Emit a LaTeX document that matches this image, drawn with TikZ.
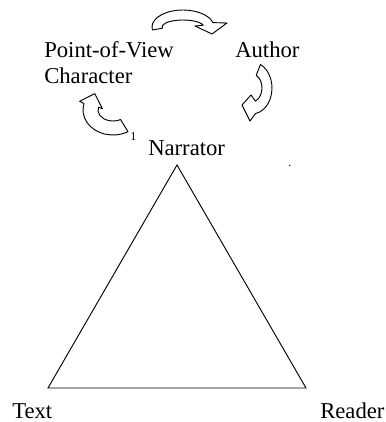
\documentclass[tikz,border=0pt]{standalone}
\usepackage{fontspec}
\setmainfont{Liberation Serif}
\usetikzlibrary{calc}

\tikzset{
  voice/.style={inner sep=0pt, anchor=base west, font=\fontsize{17}{19.5}\selectfont},
  tiny text/.style={inner sep=0pt, anchor=base west, font=\fontsize{9}{10}\selectfont},
  block arrow/.style={draw, fill=white, line width=0.7pt, line join=round},
}

\begin{document}
\begin{tikzpicture}[x=0.75pt, y=-0.75pt]
  \useasboundingbox (0,0) rectangle (386,422);

  % the three voices
  \node[voice, align=left] (pov) at (44,83) {Point-of-View\\Character};
  \node[voice] (author) at (235,57) {Author};
  \node[voice] (narrator) at (148,155) {Narrator};
  \node[tiny text] (note) at (130,140) {1};
  \node[tiny text] (dot) at (288,166) {.};

  % triangle
  \coordinate (apexN) at (177,165);
  \coordinate (cornerT) at (48,388);
  \coordinate (cornerR) at (306,388);
  \draw[line width=0.7pt] (apexN) -- (cornerT) -- (cornerR) -- cycle;
  \node[voice] (text) at (12,418) {Text};
  \node[voice] (reader) at (320,418) {Reader};

  % curved arrows, going round clockwise
  \coordinate (topc) at (183,27);
  \coordinate (rightc) at (252,88);
  \coordinate (leftc) at (113,110);
  \draw[block arrow] ($(topc)+(170:31 and 17)$)
    arc[start angle=170, end angle=345, x radius=31, y radius=17]
    -- (227,23) -- (212,34) -- (195,26)
    -- ($(topc)+(345:21 and 7)$)
    arc[start angle=345, end angle=170, x radius=21, y radius=7] -- cycle;
  \draw[block arrow] ($(rightc)+(-65:20 and 26)$)
    arc[start angle=-65, end angle=80, x radius=20, y radius=26]
    -- (250,121) -- (242,105) -- (251,95)
    -- ($(rightc)+(70:10 and 14)$)
    arc[start angle=70, end angle=-65, x radius=10, y radius=14] -- cycle;
  \draw[block arrow] ($(leftc)+(60:30 and 25)$)
    arc[start angle=60, end angle=195, x radius=30, y radius=25]
    -- (79.6,101.3) -- (94.7,93.6) -- (102.4,108.7)
    -- ($(leftc)+(195:15 and 11)$)
    arc[start angle=195, end angle=60, x radius=15, y radius=11] -- cycle;
\end{tikzpicture}
\end{document}
